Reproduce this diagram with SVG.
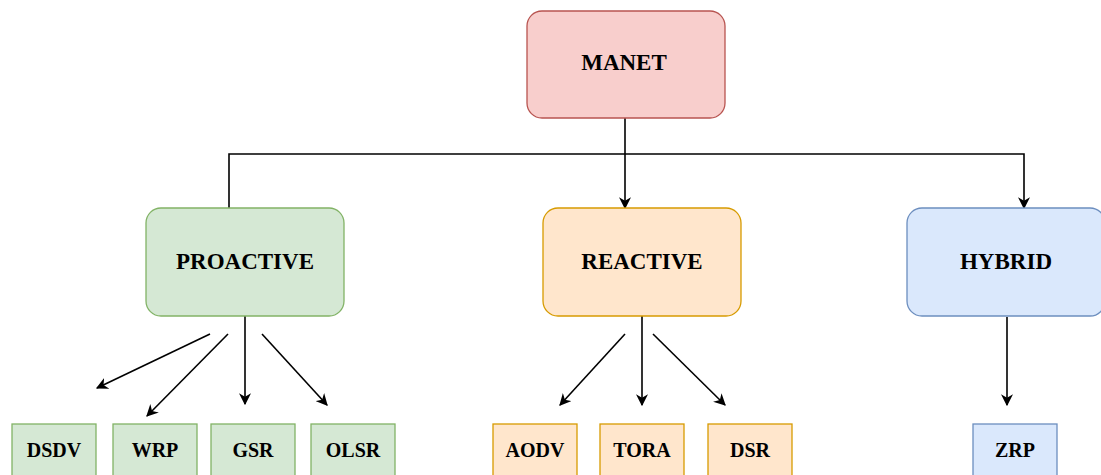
<svg xmlns="http://www.w3.org/2000/svg" width="1101" height="475" viewBox="0 0 1101 475">
<style>
.t{font-family:"Liberation Serif","Times New Roman",serif;font-weight:bold;fill:#000;text-anchor:middle;dominant-baseline:central}
.big{font-size:23px}
.sm{font-size:20px}
.red{fill:#f8cecc;stroke:#b85450;stroke-width:1.3}
.grn{fill:#d5e8d4;stroke:#82b366;stroke-width:1.3}
.org{fill:#ffe6cc;stroke:#d79b00;stroke-width:1.3}
.blu{fill:#dae8fc;stroke:#6c8ebf;stroke-width:1.3}
.c{fill:none;stroke:#000;stroke-width:1.6}
</style>
<defs>
<marker id="ah" viewBox="0 0 10 10" refX="9" refY="5" markerWidth="12" markerHeight="12" markerUnits="userSpaceOnUse" orient="auto">
<path d="M0,0 L10,5 L0,10 L3,5 z" fill="#000"/>
</marker>
</defs>
<rect width="1101" height="475" fill="#fff"/>
<g id="connectors">
<path class="c" d="M625,118 V208" marker-end="url(#ah)"/>
<path class="c" d="M229,208 V154 H1024 V208" marker-end="url(#ah)"/>
<path class="c" d="M210,334 L97,388" marker-end="url(#ah)"/>
<path class="c" d="M228,334 L147,416" marker-end="url(#ah)"/>
<path class="c" d="M245,316 V404" marker-end="url(#ah)"/>
<path class="c" d="M262,334 L327,405" marker-end="url(#ah)"/>
<path class="c" d="M625,334 L560,405" marker-end="url(#ah)"/>
<path class="c" d="M642,316 V405" marker-end="url(#ah)"/>
<path class="c" d="M653,334 L725,405" marker-end="url(#ah)"/>
<path class="c" d="M1007,317 V405" marker-end="url(#ah)"/>
</g>
<g id="manet"><rect class="red" x="527" y="11" width="198" height="107" rx="15"/><text class="t big" x="624" y="62">MANET</text></g>
<g id="proactive"><rect class="grn" x="146" y="208" width="198" height="108" rx="15"/><text class="t big" x="245" y="261">PROACTIVE</text></g>
<g id="reactive"><rect class="org" x="543" y="208" width="198" height="108" rx="15"/><text class="t big" x="642" y="261">REACTIVE</text></g>
<g id="hybrid"><rect class="blu" x="907" y="208" width="198" height="108" rx="15"/><text class="t big" x="1006" y="261">HYBRID</text></g>
<g id="dsdv"><rect class="grn" x="12" y="424" width="84" height="60"/><text class="t sm" x="54" y="450">DSDV</text></g>
<g id="wrp"><rect class="grn" x="113" y="424" width="84" height="60"/><text class="t sm" x="155" y="450">WRP</text></g>
<g id="gsr"><rect class="grn" x="211" y="424" width="84" height="60"/><text class="t sm" x="253" y="450">GSR</text></g>
<g id="olsr"><rect class="grn" x="311" y="424" width="84" height="60"/><text class="t sm" x="353" y="450">OLSR</text></g>
<g id="aodv"><rect class="org" x="493" y="424" width="84" height="60"/><text class="t sm" x="535" y="450">AODV</text></g>
<g id="tora"><rect class="org" x="600" y="424" width="84" height="60"/><text class="t sm" x="642" y="450">TORA</text></g>
<g id="dsr"><rect class="org" x="708" y="424" width="84" height="60"/><text class="t sm" x="750" y="450">DSR</text></g>
<g id="zrp"><rect class="blu" x="973" y="424" width="84" height="60"/><text class="t sm" x="1015" y="450">ZRP</text></g>
</svg>
